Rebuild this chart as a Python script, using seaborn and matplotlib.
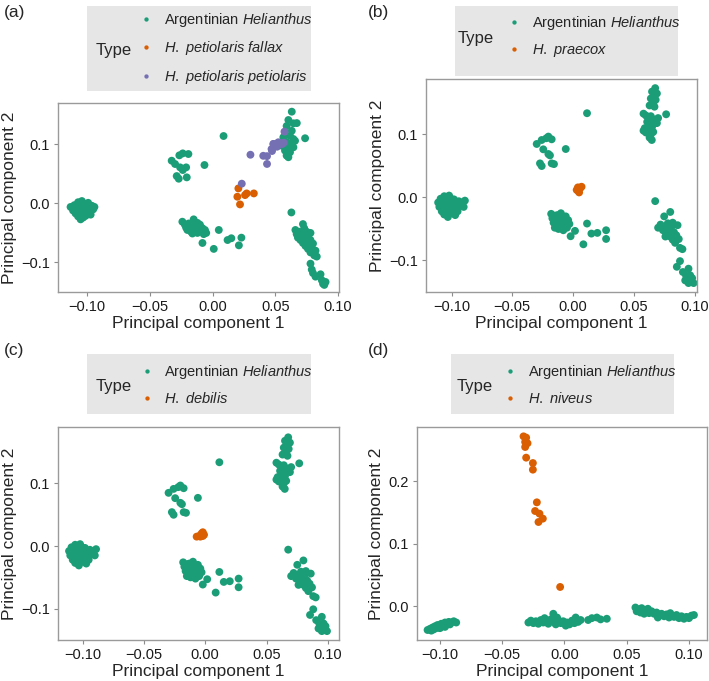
import pandas as pd
import seaborn as sns
import matplotlib.pyplot as plt
from matplotlib.patches import Rectangle

sns.set_style("white")
plt.rcParams["font.family"] = ["Liberation Sans", "DejaVu Sans"]
plt.rcParams["mathtext.fontset"] = "custom"
plt.rcParams["mathtext.rm"] = "Liberation Sans"
plt.rcParams["mathtext.it"] = "Liberation Sans:italic"

ARG = "Argentinian $\\mathit{Helianthus}$"
FALLAX = "$\\mathit{H.\\ petiolaris\\ fallax}$"
PETIOLARIS = "$\\mathit{H.\\ petiolaris\\ petiolaris}$"
PRAECOX = "$\\mathit{H.\\ praecox}$"
DEBILIS = "$\\mathit{H.\\ debilis}$"
NIVEUS = "$\\mathit{H.\\ niveus}$"

# ---- panel (a) ----
a_arg = [
    # left cluster
    (-0.113, -0.006), (-0.111, -0.012), (-0.110, -0.003), (-0.109, -0.017), (-0.108, -0.008),
    (-0.107, 0.002), (-0.107, -0.022), (-0.106, -0.013), (-0.105, -0.004), (-0.105, -0.027),
    (-0.104, -0.018), (-0.104, 0.004), (-0.103, -0.009), (-0.102, -0.014), (-0.102, -0.001),
    (-0.101, -0.021), (-0.100, -0.006), (-0.100, -0.011), (-0.099, 0.001), (-0.099, -0.017),
    (-0.098, -0.008), (-0.097, -0.013), (-0.096, -0.004), (-0.095, -0.010), (-0.094, -0.006),
    (-0.106, -0.020), (-0.103, -0.024), (-0.108, -0.011), (-0.101, -0.003), (-0.097, -0.019),
    (-0.110, -0.009), (-0.104, -0.012),
    # upper middle
    (-0.0325, 0.0723), (-0.0298, 0.0667), (-0.0264, 0.0814), (-0.0237, 0.0847), (-0.0192, 0.0836),
    (-0.0258, 0.0610), (-0.0237, 0.0565), (-0.0210, 0.0610), (-0.0285, 0.0463), (-0.0269, 0.0418),
    (-0.0205, 0.0441), (-0.0064, 0.0650), (0.0088, 0.1141),
    # lower middle
    (-0.024, -0.031), (-0.022, -0.036), (-0.021, -0.041), (-0.020, -0.045), (-0.019, -0.034),
    (-0.018, -0.039), (-0.017, -0.048), (-0.016, -0.043), (-0.015, -0.027), (-0.014, -0.037),
    (-0.014, -0.046), (-0.013, -0.041), (-0.012, -0.050), (-0.012, -0.033), (-0.011, -0.044),
    (-0.010, -0.039), (-0.009, -0.047), (-0.008, -0.042), (-0.007, -0.052), (-0.006, -0.045),
    (-0.005, -0.050), (-0.016, -0.051), (-0.019, -0.042), (-0.010, -0.036),
    (-0.008, -0.067), (0.001, -0.077), (0.005, -0.045), (0.012, -0.062), (0.015, -0.059),
    (0.021, -0.071), (0.023, -0.058),
    # upper right
    (0.0631, 0.1553), (0.0604, 0.1412), (0.0644, 0.1356), (0.0671, 0.1360), (0.0590, 0.1310),
    (0.0631, 0.1229), (0.0617, 0.1144), (0.0644, 0.1090), (0.0590, 0.1035), (0.0631, 0.1007),
    (0.0604, 0.0950), (0.0577, 0.0895), (0.0590, 0.0810), (0.0604, 0.0782), (0.0617, 0.0866),
    (0.0644, 0.0950), (0.0657, 0.1060), (0.0550, 0.0979), (0.0737, 0.1103), (0.0564, 0.1120),
    (0.0620, 0.1000), (0.0600, 0.0900), (0.0580, 0.0950),
    # lower right
    (0.0628, -0.0153), (0.066, -0.045), (0.067, -0.052), (0.068, -0.058), (0.069, -0.048),
    (0.070, -0.062), (0.071, -0.055), (0.072, -0.067), (0.073, -0.042), (0.073, -0.060),
    (0.074, -0.072), (0.075, -0.065), (0.076, -0.077), (0.076, -0.055), (0.077, -0.070),
    (0.078, -0.083), (0.078, -0.062), (0.079, -0.075), (0.080, -0.068), (0.081, -0.088),
    (0.082, -0.080), (0.072, -0.035), (0.075, -0.048), (0.078, -0.050), (0.083, -0.090),
    (0.078, -0.102), (0.079, -0.112), (0.080, -0.118), (0.082, -0.124), (0.086, -0.120),
    (0.087, -0.130), (0.088, -0.136), (0.090, -0.133), (0.089, -0.138),
]
a_fallax = [(0.0206, 0.0254), (0.0198, 0.0113), (0.0219, -0.0017),
            (0.0259, 0.0141), (0.0272, 0.0169), (0.0329, 0.0169)]
a_petiolaris = [(0.0233, 0.0334), (0.0302, 0.0824), (0.0404, 0.0806), (0.0434, 0.0800),
                (0.0434, 0.0668), (0.0474, 0.0887), (0.0487, 0.1006), (0.0514, 0.0960),
                (0.0535, 0.1006), (0.0567, 0.1028), (0.0573, 0.1215), (0.0554, 0.1006),
                (0.0470, 0.0920), (0.0524, 0.1035), (0.0484, 0.1007)]

# ---- panels (b) and (c): same Argentinian samples ----
bc_arg = [
    # left cluster
    (-0.111, -0.008), (-0.110, -0.015), (-0.109, -0.002), (-0.108, -0.022), (-0.107, -0.010),
    (-0.106, 0.002), (-0.106, -0.027), (-0.105, -0.017), (-0.104, -0.005), (-0.103, -0.031),
    (-0.103, -0.012), (-0.102, 0.003), (-0.101, -0.020), (-0.100, -0.008), (-0.100, -0.025),
    (-0.099, -0.014), (-0.098, -0.003), (-0.097, -0.018), (-0.096, -0.010), (-0.095, -0.022),
    (-0.094, -0.006), (-0.093, -0.013), (-0.091, -0.008), (-0.089, -0.005), (-0.090, -0.015),
    (-0.104, -0.021), (-0.108, -0.012), (-0.101, -0.001), (-0.097, -0.028), (-0.105, -0.010),
    # upper middle
    (-0.0299, 0.0849), (-0.0258, 0.0912), (-0.0203, 0.0966), (-0.0176, 0.0923), (-0.0220, 0.0940),
    (-0.0245, 0.0764), (-0.0203, 0.0690), (-0.0190, 0.0668), (-0.0272, 0.0541), (-0.0258, 0.0499),
    (-0.0176, 0.0541), (-0.0157, 0.0530), (-0.0060, 0.0769), (0.0115, 0.1337),
    # lower middle
    (-0.018, -0.026), (-0.017, -0.033), (-0.016, -0.040), (-0.015, -0.029), (-0.014, -0.045),
    (-0.013, -0.036), (-0.012, -0.050), (-0.011, -0.041), (-0.010, -0.025), (-0.010, -0.046),
    (-0.009, -0.033), (-0.008, -0.039), (-0.007, -0.044), (-0.006, -0.030), (-0.005, -0.048),
    (-0.004, -0.036), (-0.003, -0.042), (-0.013, -0.028), (-0.008, -0.052), (-0.015, -0.048),
    (-0.002, -0.0615), (0.0016, -0.053), (0.0085, -0.0743), (0.0115, -0.0414), (0.0151, -0.0573),
    (0.020, -0.0562), (0.0272, -0.052), (0.0272, -0.0658),
    # upper right
    (0.0676, 0.1735), (0.065, 0.168), (0.069, 0.165), (0.066, 0.160), (0.064, 0.157),
    (0.068, 0.155), (0.066, 0.150), (0.063, 0.146), (0.067, 0.144), (0.058, 0.133),
    (0.060, 0.130), (0.062, 0.127), (0.064, 0.129), (0.066, 0.124), (0.068, 0.121),
    (0.069, 0.118), (0.061, 0.120), (0.063, 0.115), (0.065, 0.112), (0.059, 0.110),
    (0.058, 0.106), (0.060, 0.103), (0.062, 0.108), (0.064, 0.100), (0.066, 0.104),
    (0.063, 0.095), (0.0648, 0.0912), (0.070, 0.126), (0.0766, 0.132),
    # lower right
    (0.0676, -0.0058), (0.070, -0.048), (0.072, -0.043), (0.074, -0.052), (0.075, -0.030),
    (0.076, -0.046), (0.077, -0.058), (0.078, -0.041), (0.079, -0.053), (0.080, -0.062),
    (0.080, -0.023), (0.081, -0.046), (0.082, -0.067), (0.083, -0.055), (0.084, -0.072),
    (0.085, -0.060), (0.086, -0.044), (0.087, -0.066), (0.088, -0.080), (0.090, -0.082),
    (0.082, -0.040), (0.076, -0.062), (0.088, -0.101), (0.0854, -0.110), (0.0904, -0.1183),
    (0.095, -0.113), (0.0964, -0.1236), (0.0992, -0.1358), (0.095, -0.1358), (0.0923, -0.1316),
    (0.098, -0.128), (0.093, -0.124),
]
b_praecox = [(0.003, 0.012), (0.004, 0.016), (0.006, 0.015), (0.007, 0.017), (0.005, 0.008), (0.004, 0.011)]
c_debilis = [(-0.007, 0.015), (-0.005, 0.016), (-0.003, 0.020), (-0.002, 0.022),
             (-0.001, 0.018), (-0.004, 0.015), (-0.002, 0.016)]

# ---- panel (d) ----
d_arg = [
    # left
    (-0.110, -0.038), (-0.108, -0.036), (-0.107, -0.039), (-0.106, -0.034), (-0.105, -0.037),
    (-0.104, -0.032), (-0.103, -0.035), (-0.102, -0.030), (-0.101, -0.034), (-0.100, -0.031),
    (-0.099, -0.028), (-0.098, -0.032), (-0.097, -0.029), (-0.096, -0.026), (-0.095, -0.030),
    (-0.094, -0.027), (-0.093, -0.025), (-0.092, -0.029), (-0.091, -0.026), (-0.089, -0.024),
    (-0.087, -0.026), (-0.100, -0.035), (-0.096, -0.033),
    # middle
    (-0.029, -0.026), (-0.027, -0.023), (-0.025, -0.027), (-0.023, -0.024), (-0.021, -0.028),
    (-0.019, -0.022), (-0.017, -0.026), (-0.015, -0.024), (-0.013, -0.028), (-0.011, -0.021),
    (-0.009, -0.012), (-0.009, -0.025), (-0.007, -0.029), (-0.005, -0.022), (-0.003, -0.027),
    (-0.001, -0.024), (0.001, -0.031), (0.002, -0.026), (0.004, -0.029), (0.006, -0.023),
    (0.008, -0.027), (0.009, -0.018), (0.011, -0.025), (0.013, -0.022), (-0.006, -0.018),
    (-0.016, -0.019), (0.019, -0.022), (0.022, -0.019), (0.026, -0.018), (0.029, -0.021),
    (0.034, -0.020),
    # right
    (0.057, -0.002), (0.058, -0.008), (0.060, -0.005), (0.061, -0.010), (0.062, -0.003),
    (0.063, -0.008), (0.064, -0.012), (0.065, -0.006), (0.066, -0.009), (0.067, -0.004),
    (0.068, -0.011), (0.070, -0.008), (0.072, -0.012), (0.074, -0.010), (0.076, -0.015),
    (0.078, -0.012), (0.080, -0.016), (0.082, -0.013), (0.084, -0.018), (0.086, -0.015),
    (0.088, -0.017), (0.090, -0.014), (0.092, -0.019), (0.094, -0.016), (0.096, -0.020),
    (0.098, -0.017), (0.100, -0.019), (0.102, -0.015), (0.104, -0.014), (0.075, -0.018),
    (0.085, -0.011),
]
d_niveus = [(-0.0329, 0.272), (-0.0308, 0.270), (-0.0316, 0.263), (-0.0297, 0.261), (-0.0316, 0.255),
            (-0.0308, 0.2379), (-0.0254, 0.2293), (-0.0254, 0.2187), (-0.0222, 0.1664),
            (-0.0236, 0.1525), (-0.0201, 0.1483), (-0.0174, 0.1403), (-0.0209, 0.1349),
            (-0.0035, 0.0309)]

x_ticks = [-0.10, -0.05, 0.00, 0.05, 0.10]
colors = ["#1B9E77", "#D95F02", "#7570B3"]

W, H = 709, 681


def fx(px):
    return px / W


def fy(py):
    return 1 - py / H


def make_df(groups):
    parts = [pd.DataFrame(pts, columns=["PC1", "PC2"]).assign(Type=name) for name, pts in groups]
    return pd.concat(parts, ignore_index=True)


def panel(fig, rect, groups, xlim, ylim, yticks, tag, tag_xy, box, type_xy, dot_x, rows_y):
    l, r, t, b = rect
    ax = fig.add_axes([fx(l), fy(b), (r - l) / W, (b - t) / H])
    df = make_df(groups)
    names = [g[0] for g in groups]
    pal = dict(zip(names, colors))
    sns.scatterplot(data=df, x="PC1", y="PC2", hue="Type", hue_order=names, palette=pal,
                    s=32, linewidth=0, ax=ax)
    handles, labels = ax.get_legend_handles_labels()
    ax.get_legend().remove()
    ax.set_xlim(*xlim)
    ax.set_ylim(*ylim)
    ax.set_xticks(x_ticks)
    ax.set_xticklabels([f"{v:.2f}".replace("-", "\u2212") for v in x_ticks])
    ax.set_yticks(yticks)
    ax.set_yticklabels([f"{v:.1f}".replace("-", "\u2212") for v in yticks])
    ax.tick_params(length=3, width=0.8, color="#8c8c8c", labelsize=10.5, pad=3,
                   labelcolor="#1a1a1a", bottom=True, left=True)
    for sp in ax.spines.values():
        sp.set_color("#9a9a9a")
        sp.set_linewidth(1.0)
    ax.set_xlabel("Principal component 1", fontsize=12.5, labelpad=1)
    ax.set_ylabel("Principal component 2", fontsize=12.5, labelpad=3)

    fig.text(fx(tag_xy[0]), fy(tag_xy[1]), tag, fontsize=12.5, va="center", ha="left")
    bx0, bx1, by0, by1 = box
    fig.patches.append(Rectangle((fx(bx0), fy(by1)), (bx1 - bx0) / W, (by1 - by0) / H,
                                 transform=fig.transFigure, facecolor="#e6e6e6",
                                 edgecolor="none", zorder=0))
    fig.text(fx(type_xy[0]), fy(type_xy[1]), "Type", fontsize=12, va="center", ha="left")
    fs = 10.5
    fspx = fs * 100 / 72
    hl, hp = 0.6, 0.9
    cy = sum(rows_y) / len(rows_y)
    gap = rows_y[1] - rows_y[0]
    fig.legend(handles, labels, loc="center left",
               bbox_to_anchor=(fx(dot_x - hl * fspx / 2), fy(cy)),
               frameon=False, fontsize=fs, handlelength=hl, handletextpad=hp,
               borderpad=0, borderaxespad=0, labelspacing=(gap - fspx) / fspx,
               markerscale=0.55)
    return ax


fig = plt.figure(figsize=(W / 100, H / 100), dpi=100)

panel(fig, (58, 339, 103, 292),
      [(ARG, a_arg), (FALLAX, a_fallax), (PETIOLARIS, a_petiolaris)],
      (-0.123, 0.1007), (-0.150, 0.170), [-0.1, 0.0, 0.1],
      "(a)", (4, 12), (87, 311, 6, 91), (96, 50), 146, [24, 49, 72])
panel(fig, (426, 697, 79, 292),
      [(ARG, bc_arg), (PRAECOX, b_praecox)],
      (-0.121, 0.102), (-0.150, 0.188), [-0.1, 0.0, 0.1],
      "(b)", (368, 12), (455, 678, 6, 76), (458, 39), 514, [24, 49])
panel(fig, (58, 339, 427, 640),
      [(ARG, bc_arg), (DEBILIS, c_debilis)],
      (-0.120, 0.109), (-0.150, 0.190), [-0.1, 0.0, 0.1],
      "(c)", (4, 351), (87, 311, 354, 414), (96, 386), 146.5, [372, 397])
panel(fig, (417, 707, 427, 640),
      [(ARG, d_arg), (NIVEUS, d_niveus)],
      (-0.1185, 0.1145), (-0.054, 0.287), [0.0, 0.1, 0.2],
      "(d)", (368, 351), (451, 674, 354, 414), (457, 386), 510, [372, 397])

fig.savefig("out.png", dpi=100)
